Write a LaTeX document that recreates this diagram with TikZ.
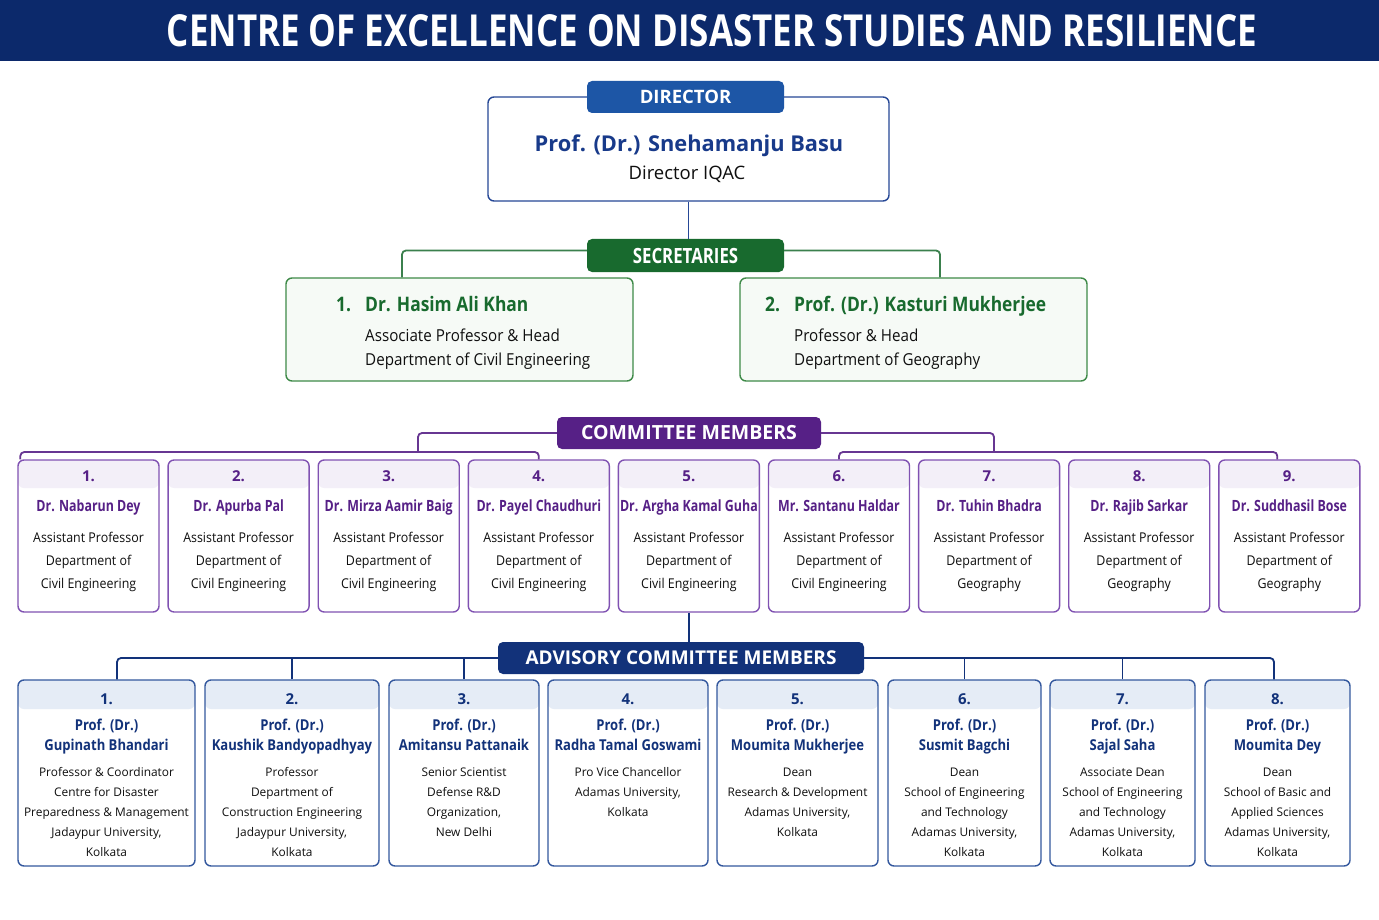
\documentclass[tikz,border=0pt]{standalone}
\usepackage{fontspec}
\setmainfont{Open Sans}
\newfontfamily\condfont[FakeStretch=0.8]{Open Sans}
\newfontfamily\midfont[FakeStretch=0.87]{Open Sans}
\newfontfamily\bodyfont[FakeStretch=0.92]{Open Sans}
\usepackage{graphicx}
\usetikzlibrary{positioning,calc}
\definecolor{titlenavy}{RGB}{12,41,107}
\definecolor{dirblue}{RGB}{29,86,166}
\definecolor{dirline}{RGB}{38,72,150}
\definecolor{dirtext}{RGB}{24,58,138}
\definecolor{secgreen}{RGB}{24,106,46}
\definecolor{secline}{RGB}{62,138,72}
\definecolor{secfill}{RGB}{246,250,246}
\definecolor{compurple}{RGB}{86,32,134}
\definecolor{comline}{RGB}{128,82,178}
\definecolor{comband}{RGB}{243,239,248}
\definecolor{advnavy}{RGB}{18,50,122}
\definecolor{advline}{RGB}{52,88,158}
\definecolor{advband}{RGB}{229,236,246}
\definecolor{bodygray}{RGB}{15,15,15}

\begin{document}
\begin{tikzpicture}[x=1pt,y=-1pt,
    tag/.style={rounded corners=5pt,inner sep=0pt,minimum height=32pt,text=white},
    card/.style={draw=#1,line width=1.4pt,rounded corners=6pt,inner sep=0pt},
    link/.style={line width=1.8pt,rounded corners=4pt},
    lbl/.style={inner sep=0pt}]
  \useasboundingbox (0,0) rectangle (1379,920);
  \fill[white] (0,0) rectangle (1379,920);
  % title band
  \fill[titlenavy] (0,0) rectangle (1379,61);
  \node[lbl,text=white] (title) at (712,31)
    {\resizebox{1090pt}{32pt}{\condfont\bfseries CENTRE OF EXCELLENCE ON DISASTER STUDIES AND RESILIENCE}};
  % director
  \node[card=dirline,fill=white,minimum width=401pt,minimum height=104pt] (dir) at (688.5,149) {};
  \node[tag,fill=dirblue,minimum width=197pt,font=\fontsize{18.5}{18.5}\selectfont\bfseries]
    (dirtag) at (685.5,97) {DIRECTOR};
  \node[lbl,anchor=base,text=dirtext,font=\fontsize{21.8}{21.8}\selectfont\bfseries]
    (dirname) at (689,152) {Prof. (Dr.) Snehamanju Basu};
  \node[lbl,anchor=base,text=bodygray,font=\fontsize{18.5}{18.5}\selectfont]
    (dirrole) at (687,180) {Director IQAC};
  % secretaries
  \node[tag,fill=secgreen,minimum width=197pt,minimum height=33pt,
    font=\condfont\fontsize{21}{21}\selectfont\bfseries] (sectag) at (685.5,255.5) {SECRETARIES};
  \node[card=secline,fill=secfill,minimum width=347pt,minimum height=103pt] (sec1) at (459.5,329.5) {};
  \node[card=secline,fill=secfill,minimum width=347pt,minimum height=103pt] (sec2) at (913.5,329.5) {};
  \node[lbl,anchor=base west,text=secgreen,font=\midfont\fontsize{20}{20}\selectfont\bfseries]
    (sec1name) at (336,311) {\makebox[29pt][l]{1.}Dr. Hasim Ali Khan};
  \node[lbl,anchor=north west,align=left,text=bodygray,font=\bodyfont\fontsize{16.5}{24}\selectfont]
    (sec1role) at (365,328) {\rule{0pt}{13pt}Associate Professor \& Head\\Department of Civil Engineering};
  \node[lbl,anchor=base west,text=secgreen,font=\midfont\fontsize{20}{20}\selectfont\bfseries]
    (sec2name) at (765,311) {\makebox[29pt][l]{2.}Prof. (Dr.) Kasturi Mukherjee};
  \node[lbl,anchor=north west,align=left,text=bodygray,font=\bodyfont\fontsize{16.5}{24}\selectfont]
    (sec2role) at (794,328) {\rule{0pt}{13pt}Professor \& Head\\Department of Geography};
  \draw[link,dirline] (dir.south) -- (dir.south |- sectag.north);
  \draw[link,secgreen!85] ([yshift=5pt]sectag.west) -| ([xshift=-57.5pt]sec1.north);
  \draw[link,secgreen!85] ([yshift=5pt]sectag.east) -| ([xshift=26.5pt]sec2.north);
  % committee members
  \node[tag,fill=compurple,minimum width=264pt,font=\fontsize{19.5}{19.5}\selectfont\bfseries]
    (cmtag) at (689,433) {COMMITTEE MEMBERS};
  \foreach \i/\nm/\dept in {1/Dr. Nabarun Dey/Civil Engineering,
      2/Dr. Apurba Pal/Civil Engineering,
      3/Dr. Mirza Aamir Baig/Civil Engineering,
      4/Dr. Payel Chaudhuri/Civil Engineering,
      5/Dr. Argha Kamal Guha/Civil Engineering,
      6/Mr. Santanu Haldar/Civil Engineering,
      7/Dr. Tuhin Bhadra/Geography,
      8/Dr. Rajib Sarkar/Geography,
      9/Dr. Suddhasil Bose/Geography}{
    \pgfmathsetmacro\cx{88.5+(\i-1)*150.1}
    \node[card=comline,fill=white,minimum width=141pt,minimum height=152pt,
      path picture={\fill[comband] (path picture bounding box.north west)
        rectangle ([yshift=-28pt]path picture bounding box.north east);}] (cm\i) at (\cx,536) {};
    \node[lbl,anchor=base,text=compurple,font=\fontsize{15}{15}\selectfont\bfseries]
      (cmno\i) at (\cx,481) {\i.};
    \node[lbl,anchor=base,text=compurple,font=\condfont\fontsize{15.5}{15.5}\selectfont\bfseries]
      (cmnm\i) at (\cx,511) {\nm};
    \node[lbl,anchor=north,align=center,text=bodygray,font=\bodyfont\fontsize{13.5}{23}\selectfont]
      (cmtx\i) at (\cx,531) {\rule{0pt}{11pt}Assistant Professor\\Department of\\\dept};
  }
  \coordinate (cbusL) at (418,452);
  \coordinate (cbusR) at (994,452);
  \draw[link,compurple!90] (cmtag.west) -| (cbusL);
  \draw[link,compurple!90] ([xshift=3pt]cm1.north west) |- (cbusL) -| (cm4.north);
  \draw[link,compurple!90] (cmtag.east) -| (cbusR);
  \draw[link,compurple!90] (cm6.north) |- (cbusR) -| ([xshift=-12pt]cm9.north);
  % advisory committee members
  \node[tag,fill=advnavy,minimum width=366pt,font=\fontsize{19}{19}\selectfont\bfseries]
    (advtag) at (681,658) {ADVISORY COMMITTEE MEMBERS};
  \foreach \i/\cx/\w/\nm/\body in {
      1/106.5/177/{Gupinath Bhandari}/{Professor \& Coordinator\\Centre for Disaster\\Preparedness \& Management\\Jadaypur University,\\Kolkata},
      2/292/174/{Kaushik Bandyopadhyay}/{Professor\\Department of\\Construction Engineering\\Jadaypur University,\\Kolkata},
      3/464/150/{Amitansu Pattanaik}/{Senior Scientist\\Defense R\&D\\Organization,\\New Delhi},
      4/628/160/{Radha Tamal Goswami}/{Pro Vice Chancellor\\Adamas University,\\Kolkata},
      5/797.5/161/{Moumita Mukherjee}/{Dean\\Research \& Development\\Adamas University,\\Kolkata},
      6/964.5/153/{Susmit Bagchi}/{Dean\\School of Engineering\\and Technology\\Adamas University,\\Kolkata},
      7/1122.5/145/{Sajal Saha}/{Associate Dean\\School of Engineering\\and Technology\\Adamas University,\\Kolkata},
      8/1277.5/145/{Moumita Dey}/{Dean\\School of Basic and\\Applied Sciences\\Adamas University,\\Kolkata}}{
    \node[card=advline,fill=white,minimum width=\w pt,minimum height=186pt,
      path picture={\fill[advband] (path picture bounding box.north west)
        rectangle ([yshift=-29pt]path picture bounding box.north east);}] (adv\i) at (\cx,773) {};
    \node[lbl,anchor=base,text=advnavy,font=\fontsize{15}{15}\selectfont\bfseries]
      (advno\i) at (\cx,704) {\i.};
    \node[lbl,anchor=north,align=center,text=advnavy,font=\midfont\fontsize{15}{20}\selectfont\bfseries]
      (advnm\i) at (\cx,718) {\rule{0pt}{12pt}Prof. (Dr.)\\\nm};
    \node[lbl,anchor=north,align=center,text=bodygray,font=\fontsize{11.9}{20}\selectfont]
      (advtx\i) at (\cx,766) {\rule{0pt}{10pt}\body};
  }
  \draw[link,advnavy] (cm5.south) -- (cm5.south |- advtag.north);
  \draw[link,advnavy] (advtag.west) -| ([xshift=10.5pt]adv1.north);
  \draw[link,advnavy] (adv2.north) -- (adv2.north |- advtag.west);
  \draw[link,advnavy] (adv3.north) -- (adv3.north |- advtag.west);
  \draw[link,advnavy] (advtag.east) -| ([xshift=-3.5pt]adv8.north);
  \draw[link,advnavy] (adv6.north) -- (adv6.north |- advtag.east);
  \draw[link,advnavy] (adv7.north) -- (adv7.north |- advtag.east);
\end{tikzpicture}
\end{document}
